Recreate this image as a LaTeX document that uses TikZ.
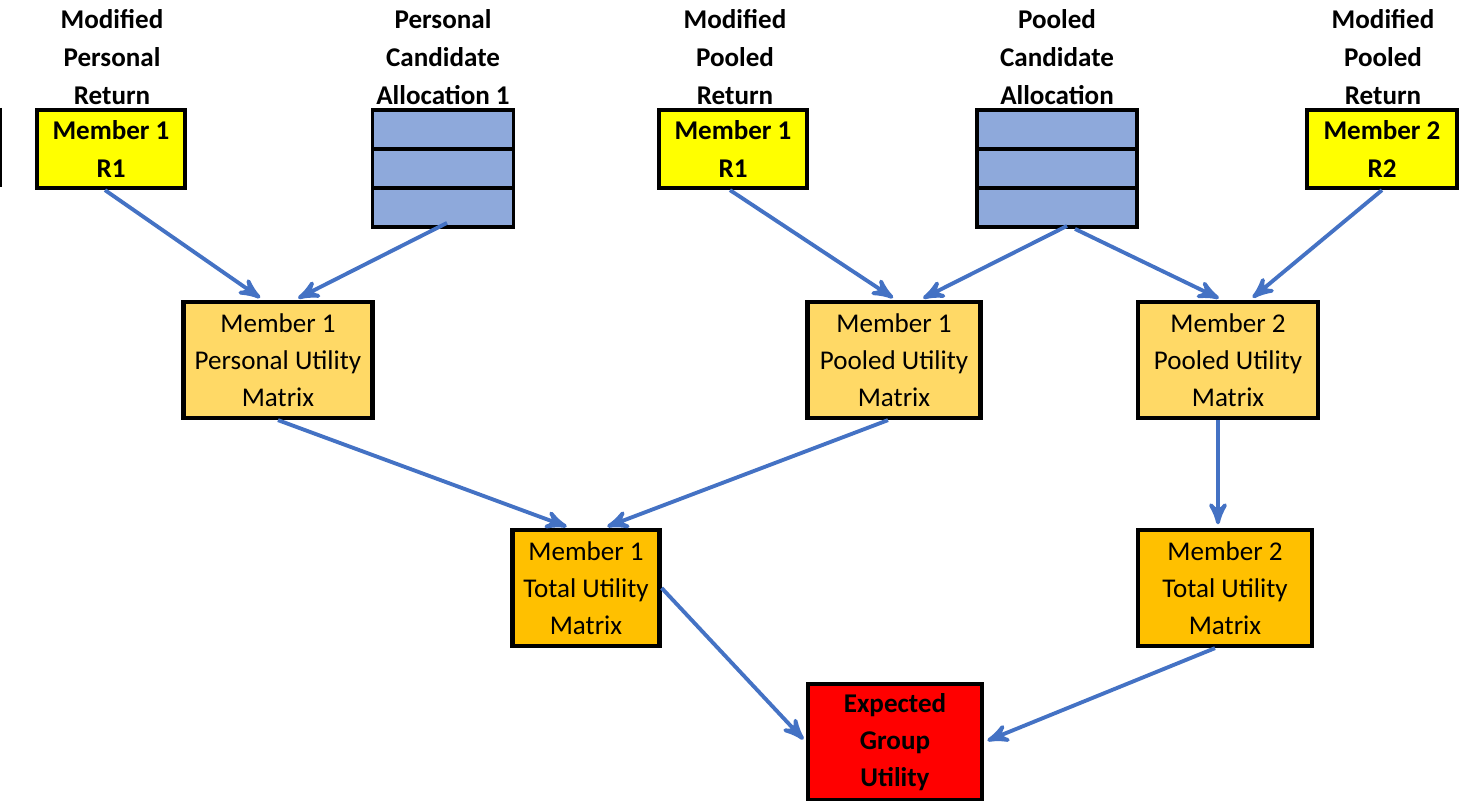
\documentclass[tikz,border=0pt]{standalone}
\usepackage{fontspec}
\setmainfont{Carlito}
\usetikzlibrary{arrows,positioning}

\definecolor{retyellow}{HTML}{FFFF00}
\definecolor{allocblue}{HTML}{8EA9DB}
\definecolor{utilorange}{HTML}{FFD966}
\definecolor{totalorange}{HTML}{FFC000}
\definecolor{groupred}{HTML}{FF0000}
\definecolor{arrowblue}{HTML}{4472C4}

\begin{document}
\begin{tikzpicture}[x=0.01cm,y=-0.01cm,
    every node/.style={font=\fontsize{7.7}{10.5}\selectfont,align=center,inner sep=0pt},
    head/.style={font=\fontsize{7.7}{10.8}\selectfont\bfseries},
    box/.style={draw,line width=1.2pt,minimum height=1.16cm},
    ret/.style={box,fill=retyellow,minimum width=1.48cm,minimum height=0.78cm,font=\fontsize{7.7}{10.6}\selectfont\bfseries},
    alloc/.style={draw,line width=1.1pt,fill=allocblue,minimum height=0.39cm},
    util/.style={box,fill=utilorange},
    total/.style={box,fill=totalorange},
    flow/.style={->,>=stealth',line width=1.1pt,arrowblue,shorten >=1pt}]
    \useasboundingbox (0,0) rectangle (1460,801);

    % stray mark at the left edge
    \draw[line width=0.6pt] (1,108) -- (1,187);

    % top labels
    \node[head](h1) at (112,57){Modified\\Personal\\Return};
    \node[head](h2) at (443,57){Personal\\Candidate\\Allocation 1};
    \node[head](h3) at (735,57){Modified\\Pooled\\Return};
    \node[head](h4) at (1057,57){Pooled\\Candidate\\Allocation};
    \node[head](h5) at (1383,57){Modified\\Pooled\\Return};

    % returns
    \node[ret](y1) at (111,149){Member 1\\R1};
    \node[ret](y2) at (733,149){Member 1\\R1};
    \node[ret,minimum width=1.5cm](y3) at (1382,149){Member 2\\R2};

    % candidate allocations
    \foreach \n in {1,2,3}
        \node[alloc,minimum width=1.41cm](pa\n) at (443,{110+(\n-0.5)*39}){};
    \foreach \n in {1,2,3}
        \node[alloc,minimum width=1.6cm](pb\n) at (1057,{110+(\n-0.5)*39}){};

    % utility matrices
    \node[util,minimum width=1.89cm](o1) at (278,360){Member 1\\Personal Utility\\Matrix};
    \node[util,minimum width=1.73cm](o2) at (894,360){Member 1\\Pooled Utility\\Matrix};
    \node[util,minimum width=1.8cm](o3) at (1228,360){Member 2\\Pooled Utility\\Matrix};

    \node[total,minimum width=1.47cm](t1) at (586,588){Member 1\\Total Utility\\Matrix};
    \node[total,minimum width=1.74cm](t2) at (1225,588){Member 2\\Total Utility\\Matrix};

    \node[box,fill=groupred,minimum width=1.74cm,font=\fontsize{7.7}{10.6}\selectfont\bfseries](e) at (895,742){Expected\\Group\\Utility};

    \path [flow]
        ([xshift=-0.6mm]y1.south) edge ([xshift=-1.5mm]o1.north)
        ([xshift=0.4mm,yshift=0.6mm]pa3.south) edge ([xshift=1.7mm]o1.north)
        ([xshift=-0.3mm]y2.south) edge ([xshift=0.2mm]o2.north)
        ([xshift=1mm,yshift=0.3mm]pb3.south) edge ([xshift=2.6mm]o2.north)
        ([xshift=1.8mm]pb3.south) edge ([xshift=-0.6mm]o3.north)
        (y3.south) edge ([xshift=2.2mm]o3.north)
        (o1.south) edge ([xshift=-1.6mm]t1.north)
        ([xshift=-0.6mm]o2.south) edge ([xshift=1.8mm]t1.north)
        ([xshift=-1mm]o3.south) edge ([xshift=-0.7mm]t2.north)
        (t1.east) edge (e.west)
        ([xshift=-1mm]t2.south) edge (e.east);
\end{tikzpicture}
\end{document}
